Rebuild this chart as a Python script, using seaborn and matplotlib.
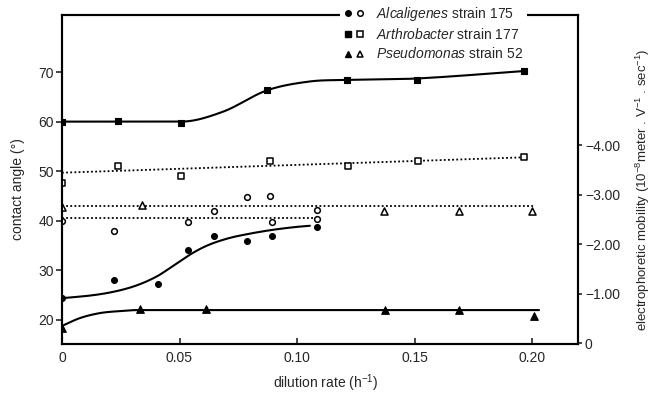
import numpy as np
import pandas as pd
import matplotlib
matplotlib.use("Agg")
import matplotlib.pyplot as plt
import seaborn as sns
from matplotlib.lines import Line2D
from matplotlib.legend_handler import HandlerTuple

# ---------------- data ----------------
# Alcaligenes strain 175
alc_contact_x = [0.0, 0.0221, 0.0409, 0.0536, 0.0647, 0.0787, 0.0894, 0.1085]
alc_contact_y = [24.4, 28.1, 27.3, 34.2, 36.9, 35.9, 37.0, 38.8]
alc_mob_x = [0.0, 0.0221, 0.0536, 0.0647, 0.0787, 0.0885, 0.0894, 0.1085, 0.1085]
alc_mob_y = [40.0, 38.0, 39.7, 42.0, 44.8, 45.0, 39.8, 40.3, 42.2]
alc_curve_x = [0.0, 0.0132, 0.023, 0.0319, 0.0404, 0.0472, 0.0545, 0.0617,
               0.0702, 0.0787, 0.0885, 0.0983, 0.1055]
alc_curve_y = [24.4, 25.0, 25.8, 27.0, 28.8, 30.9, 33.2, 35.0,
               36.4, 37.3, 38.1, 38.7, 39.0]
alc_mob_line_x = [0.0, 0.1085]
alc_mob_line_y = [40.6, 40.6]

# Arthrobacter strain 177
arth_contact_x = [0.0, 0.024, 0.0506, 0.0872, 0.1213, 0.151, 0.1966]
arth_contact_y = [60.0, 60.2, 59.8, 66.3, 68.4, 68.4, 70.2]
arth_mob_x = [0.0, 0.024, 0.0506, 0.0885, 0.1215, 0.1515, 0.1966]
arth_mob_y = [47.6, 51.0, 49.0, 52.0, 51.0, 52.0, 52.9]
arth_curve_x = [0.0, 0.0506, 0.0685, 0.0872, 0.1055, 0.1213, 0.151, 0.1966]
arth_curve_y = [60.0, 60.0, 62.0, 66.3, 68.1, 68.4, 68.7, 70.2]
arth_mob_line_x = [0.0, 0.1966]
arth_mob_line_y = [49.7, 52.8]

# Pseudomonas strain 52
pse_contact_x = [0.0, 0.0332, 0.0613, 0.1375, 0.169, 0.201]
pse_contact_y = [18.4, 22.2, 22.2, 22.0, 22.0, 20.8]
pse_mob_x = [0.0, 0.034, 0.137, 0.169, 0.200]
pse_mob_y = [42.7, 43.2, 42.0, 42.0, 42.0]
pse_curve_x = [0.0, 0.0077, 0.0162, 0.0247, 0.032, 0.07, 0.14, 0.203]
pse_curve_y = [18.8, 20.4, 21.4, 21.8, 22.0, 22.0, 22.0, 22.0]
pse_mob_line_x = [0.0, 0.201]
pse_mob_line_y = [42.9, 42.9]

legend_labels = [r"$\mathit{Alcaligenes}$ strain 175",
                 r"$\mathit{Arthrobacter}$ strain 177",
                 r"$\mathit{Pseudomonas}$ strain 52"]

x_ticks = [0.0, 0.05, 0.10, 0.15, 0.20]
x_ticklabels = ["0", "0.05", "0.10", "0.15", "0.20"]
left_ticks = [20, 30, 40, 50, 60, 70]
right_ticks = [0, 1, 2, 3, 4]
right_ticklabels = ["0", "\u22121.00", "\u22122.00", "\u22123.00", "\u22124.00"]


def smooth_curve(x, y, n=300):
    """Cubic Hermite path through the knots (central-difference slopes,
    zero slope at local extrema/plateaus), used only to draw the fit line."""
    x = np.asarray(x, float)
    y = np.asarray(y, float)
    h = np.diff(x)
    d = np.diff(y) / h
    m = np.zeros_like(y)
    m[0], m[-1] = d[0], d[-1]
    for k in range(1, len(x) - 1):
        if d[k - 1] * d[k] <= 0:
            m[k] = 0.0
        else:
            m[k] = (y[k + 1] - y[k - 1]) / (x[k + 1] - x[k - 1])
    xs = np.linspace(x[0], x[-1], n)
    idx = np.clip(np.searchsorted(x, xs) - 1, 0, len(x) - 2)
    t = (xs - x[idx]) / h[idx]
    h00 = 2 * t**3 - 3 * t**2 + 1
    h10 = t**3 - 2 * t**2 + t
    h01 = -2 * t**3 + 3 * t**2
    h11 = t**3 - t**2
    ys = (h00 * y[idx] + h10 * h[idx] * m[idx]
          + h01 * y[idx + 1] + h11 * h[idx] * m[idx + 1])
    return xs, ys


# ---------------- style ----------------
sns.set_style("ticks")
FONT = ["Liberation Sans", "DejaVu Sans"]
plt.rcParams["font.family"] = FONT
plt.rcParams["mathtext.fontset"] = "custom"
plt.rcParams["mathtext.rm"] = "Liberation Sans"
plt.rcParams["mathtext.it"] = "Liberation Sans:italic"
FS = 10

fig = plt.figure(figsize=(6.52, 3.94), dpi=100)
ax = fig.add_axes([62 / 652, 50 / 394, 516 / 652, 329 / 394])
ax2 = ax.twinx()

solid_kw = dict(color="black", linewidth=1.5, estimator=None, sort=False)
dot_kw = dict(color="black", linewidth=1.3, estimator=None, sort=False,
              linestyle=(0, (1, 1.3)))

# fitted curves (contact angle)
for cx, cy in [(alc_curve_x, alc_curve_y), (arth_curve_x, arth_curve_y),
               (pse_curve_x, pse_curve_y)]:
    sx, sy = smooth_curve(cx, cy)
    sns.lineplot(x=sx, y=sy, ax=ax, **solid_kw)

# mobility trend lines
for lx, ly in [(alc_mob_line_x, alc_mob_line_y),
               (arth_mob_line_x, arth_mob_line_y),
               (pse_mob_line_x, pse_mob_line_y)]:
    sns.lineplot(x=lx, y=ly, ax=ax, **dot_kw)

filled_kw = dict(color="black", edgecolor="black", linewidth=0.8, zorder=4)
open_kw = dict(color="white", edgecolor="black", linewidth=1.1, zorder=4)

sns.scatterplot(x=alc_contact_x, y=alc_contact_y, marker="o", s=18, ax=ax, **filled_kw)
sns.scatterplot(x=alc_mob_x, y=alc_mob_y, marker="o", s=17, ax=ax, **open_kw)
sns.scatterplot(x=arth_contact_x, y=arth_contact_y, marker="s", s=20, ax=ax, **filled_kw)
sns.scatterplot(x=arth_mob_x, y=arth_mob_y, marker="s", s=17, ax=ax, **open_kw)
sns.scatterplot(x=pse_contact_x, y=pse_contact_y, marker="^", s=30, ax=ax, **filled_kw)
sns.scatterplot(x=pse_mob_x, y=pse_mob_y, marker="^", s=26, ax=ax, **open_kw)

# ---------------- axes ----------------
ax.set_xlim(0, 516 / 2350)
ax.set_ylim(15.16, 81.5)
ax2.set_ylim(-0.02, 6.63)

ax.set_xticks(x_ticks)
ax.set_xticklabels(x_ticklabels)
ax.set_yticks(left_ticks)
ax2.set_yticks(right_ticks)
ax2.set_yticklabels(right_ticklabels)

ax.tick_params(axis="x", direction="in", length=4, width=1.2, pad=5, labelsize=FS)
ax.tick_params(axis="y", direction="out", length=4, width=1.2, pad=2, labelsize=FS)
ax2.tick_params(axis="y", direction="out", length=3, width=1.2, pad=2, labelsize=FS)

for a in (ax, ax2):
    for sp in a.spines.values():
        sp.set_visible(True)
        sp.set_linewidth(1.5)
        sp.set_color("black")

ax.set_xlabel("dilution rate (h$^{-1}$)", fontsize=FS)
ax.xaxis.set_label_coords(0.51, -0.085)
ax.set_ylabel("contact angle (\u00b0)", fontsize=FS)
ax.yaxis.set_label_coords(-0.072, 0.47)
ax2.set_ylabel("electrophoretic mobility (10$^{-8}$meter . V$^{-1}$ . sec$^{-1}$)",
               fontsize=9.5)
ax2.yaxis.set_label_coords(1.108, 0.47)

# ---------------- legend ----------------
def pair(marker, ms):
    full = Line2D([], [], linestyle="none", marker=marker, markersize=ms,
                  markerfacecolor="black", markeredgecolor="black")
    hollow = Line2D([], [], linestyle="none", marker=marker, markersize=ms,
                    markerfacecolor="white", markeredgecolor="black",
                    markeredgewidth=1.1)
    return (full, hollow)

handles = [pair("o", 4.0), pair("s", 4.0), pair("^", 5.0)]
leg = fig.legend(handles, legend_labels, loc="upper left",
                 bbox_to_anchor=(340 / 652, 1 - 1 / 394),
                 handler_map={tuple: HandlerTuple(ndivide=None, pad=0.4)},
                 frameon=True, facecolor="white", edgecolor="none",
                 framealpha=1, fancybox=False, borderpad=0.3,
                 labelspacing=0.3, handlelength=1.4, handletextpad=0.9,
                 borderaxespad=0, fontsize=FS)

fig.savefig("out.png", dpi=100)
